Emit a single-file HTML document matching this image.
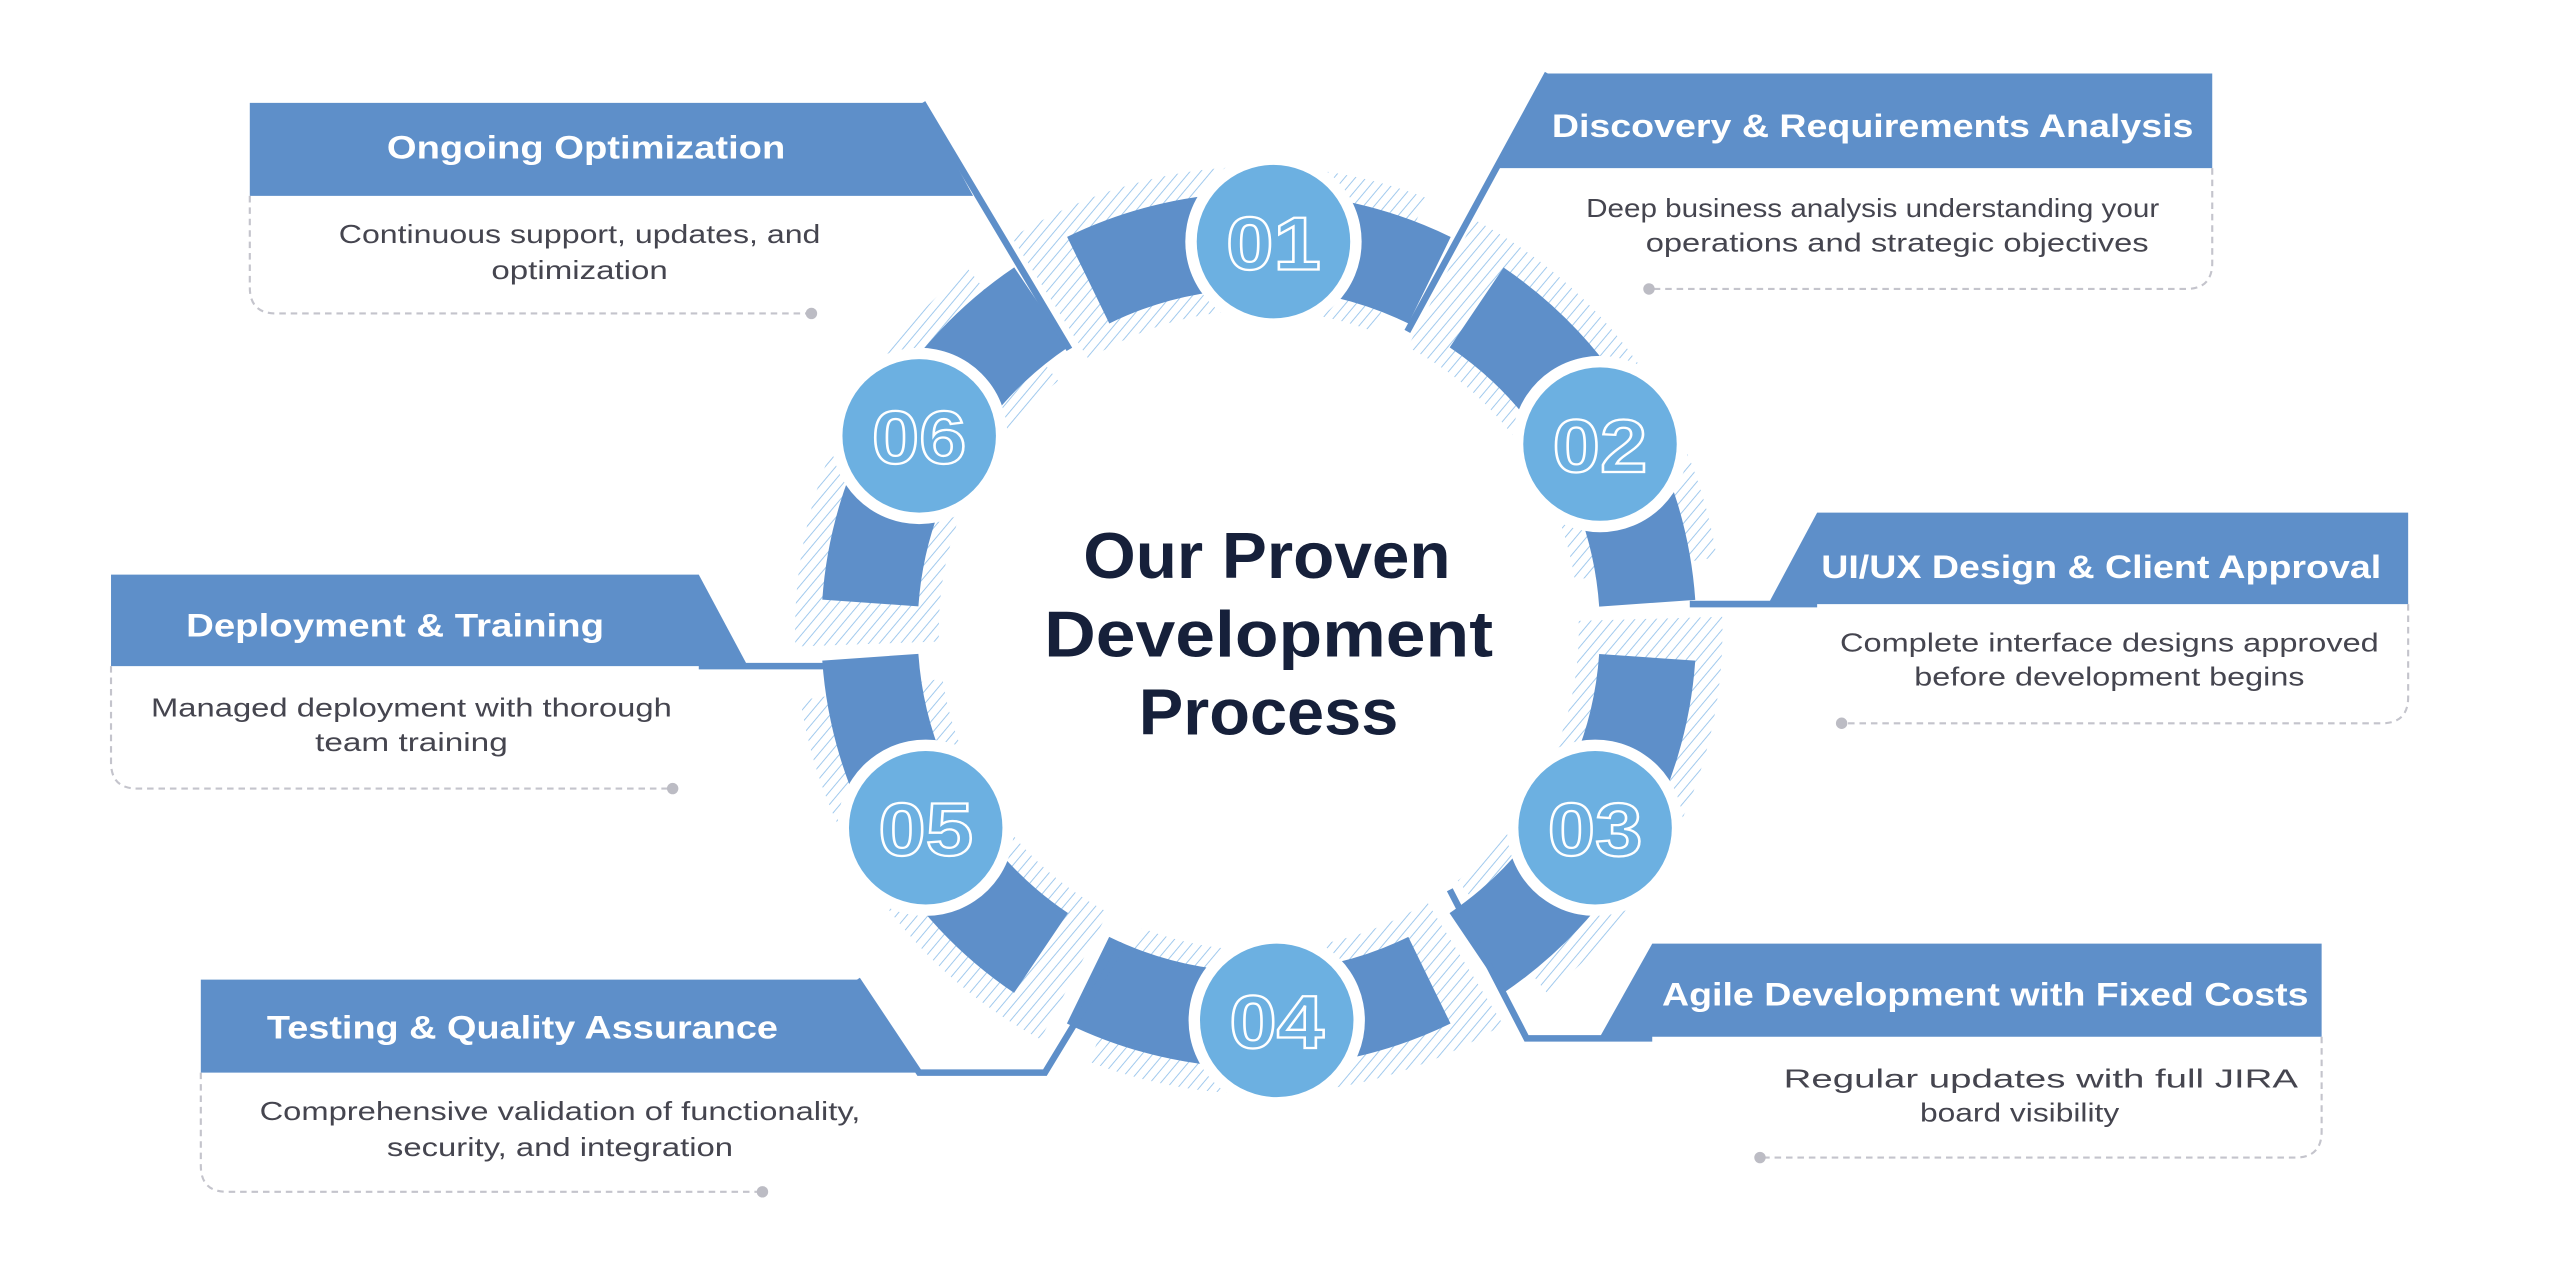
<!DOCTYPE html>
<html><head><meta charset="utf-8"><style>
html,body{margin:0;padding:0;background:#fff;}
svg{display:block;}
.h{font-family:"Liberation Sans",sans-serif;font-weight:bold;font-size:20px;fill:#fff;}
.d{font-family:"Liberation Sans",sans-serif;font-size:16px;fill:#45454f;}
.t{font-family:"Liberation Sans",sans-serif;font-weight:bold;font-size:40px;fill:#16203a;}
.n{font-family:"Liberation Sans",sans-serif;font-weight:bold;font-size:46px;fill:none;stroke:#fff;stroke-width:1.4;}
.dash{fill:none;stroke:#c4c4cc;stroke-width:1.3;stroke-dasharray:4 3;}
.cn{fill:none;stroke:#5e8fc9;stroke-width:4;}
</style></head><body>
<svg width="2560" height="1279" viewBox="0 0 1568 783.4" preserveAspectRatio="none" xmlns="http://www.w3.org/2000/svg">
<defs>
<pattern id="hp" width="5" height="5" patternUnits="userSpaceOnUse" patternTransform="rotate(45)">
<line x1="0" y1="0" x2="0" y2="5" stroke="#8fbfea" stroke-width="1.2"/>
</pattern>
</defs>

<g transform="rotate(-5 771 386)">
<circle cx="771" cy="386" r="240" fill="none" stroke="url(#hp)" stroke-width="88" stroke-dasharray="0 14 222.8 14" opacity="0.85"/>
</g>
<circle cx="771" cy="386" r="238.5" fill="none" stroke="#5e8fc9" stroke-width="59" stroke-dasharray="0 16.65 216.45 16.65"/>

<polyline class="cn" points="565,63 655,214"/>
<polyline class="cn" points="948,45 862,203"/>
<polyline class="cn" points="1035,370 1113,370"/>
<polyline class="cn" points="888,545 935,636 1012,636"/>
<polyline class="cn" points="525,600 563,657 640,657 688,578"/>
<polyline class="cn" points="428,408 505,408"/>

<polygon points="153,63 565,63 596,120 153,120" fill="#5e8fc9"/>
<polygon points="948,45 1355,45 1355,103 918,103" fill="#5e8fc9"/>
<polygon points="1113,314 1475,314 1475,370 1083,370" fill="#5e8fc9"/>
<polygon points="1012,578 1422,578 1422,635 980,635" fill="#5e8fc9"/>
<polygon points="123,600 525,600 563,657 123,657" fill="#5e8fc9"/>
<polygon points="68,352 428,352 458,408 68,408" fill="#5e8fc9"/>

<text class="h" x="359" y="97" text-anchor="middle" textLength="244" lengthAdjust="spacingAndGlyphs">Ongoing Optimization</text>
<text class="h" x="1147" y="84" text-anchor="middle" textLength="393" lengthAdjust="spacingAndGlyphs">Discovery &amp; Requirements Analysis</text>
<text class="h" x="1287" y="354" text-anchor="middle" textLength="343" lengthAdjust="spacingAndGlyphs">UI/UX Design &amp; Client Approval</text>
<text class="h" x="1216" y="616" text-anchor="middle" textLength="396" lengthAdjust="spacingAndGlyphs">Agile Development with Fixed Costs</text>
<text class="h" x="320" y="636" text-anchor="middle" textLength="313" lengthAdjust="spacingAndGlyphs">Testing &amp; Quality Assurance</text>
<text class="h" x="242" y="390" text-anchor="middle" textLength="256" lengthAdjust="spacingAndGlyphs">Deployment &amp; Training</text>

<path class="dash" d="M153,120 V176 Q153,192 169,192 H494"/><circle cx="497" cy="192" r="3.5" fill="#bcbcc4"/>
<path class="dash" d="M1355,103 V161 Q1355,177 1339,177 H1013"/><circle cx="1010" cy="177" r="3.5" fill="#bcbcc4"/>
<path class="dash" d="M1475,370 V427 Q1475,443 1459,443 H1131"/><circle cx="1128" cy="443" r="3.5" fill="#bcbcc4"/>
<path class="dash" d="M1422,635 V693 Q1422,709 1406,709 H1081"/><circle cx="1078" cy="709" r="3.5" fill="#bcbcc4"/>
<path class="dash" d="M123,657 V714 Q123,730 139,730 H464"/><circle cx="467" cy="730" r="3.5" fill="#bcbcc4"/>
<path class="dash" d="M68,408 V467 Q68,483 84,483 H409"/><circle cx="412" cy="483" r="3.5" fill="#bcbcc4"/>

<text class="d" x="355" y="149" text-anchor="middle" textLength="295" lengthAdjust="spacingAndGlyphs">Continuous support, updates, and</text>
<text class="d" x="355" y="171" text-anchor="middle" textLength="108" lengthAdjust="spacingAndGlyphs">optimization</text>
<text class="d" x="1147" y="133" text-anchor="middle" textLength="351" lengthAdjust="spacingAndGlyphs">Deep business analysis understanding your</text>
<text class="d" x="1162" y="154" text-anchor="middle" textLength="308" lengthAdjust="spacingAndGlyphs">operations and strategic objectives</text>
<text class="d" x="1292" y="399" text-anchor="middle" textLength="330" lengthAdjust="spacingAndGlyphs">Complete interface designs approved</text>
<text class="d" x="1292" y="420" text-anchor="middle" textLength="239" lengthAdjust="spacingAndGlyphs">before development begins</text>
<text class="d" x="1250" y="666" text-anchor="middle" textLength="315" lengthAdjust="spacingAndGlyphs">Regular updates with full JIRA</text>
<text class="d" x="1237" y="687" text-anchor="middle" textLength="122" lengthAdjust="spacingAndGlyphs">board visibility</text>
<text class="d" x="343" y="686" text-anchor="middle" textLength="368" lengthAdjust="spacingAndGlyphs">Comprehensive validation of functionality,</text>
<text class="d" x="343" y="708" text-anchor="middle" textLength="212" lengthAdjust="spacingAndGlyphs">security, and integration</text>
<text class="d" x="252" y="439" text-anchor="middle" textLength="319" lengthAdjust="spacingAndGlyphs">Managed deployment with thorough</text>
<text class="d" x="252" y="460" text-anchor="middle" textLength="118" lengthAdjust="spacingAndGlyphs">team training</text>

<g>
<circle cx="780" cy="148" r="54" fill="#fff"/><circle cx="780" cy="148" r="47" fill="#6cb0e1"/>
<circle cx="980" cy="272" r="54" fill="#fff"/><circle cx="980" cy="272" r="47" fill="#6cb0e1"/>
<circle cx="977" cy="507" r="54" fill="#fff"/><circle cx="977" cy="507" r="47" fill="#6cb0e1"/>
<circle cx="782" cy="625" r="54" fill="#fff"/><circle cx="782" cy="625" r="47" fill="#6cb0e1"/>
<circle cx="567" cy="507" r="54" fill="#fff"/><circle cx="567" cy="507" r="47" fill="#6cb0e1"/>
<circle cx="563" cy="267" r="54" fill="#fff"/><circle cx="563" cy="267" r="47" fill="#6cb0e1"/>
</g>
<text class="n" x="780" y="165" text-anchor="middle" textLength="58" lengthAdjust="spacingAndGlyphs">01</text>
<text class="n" x="980" y="289" text-anchor="middle" textLength="58" lengthAdjust="spacingAndGlyphs">02</text>
<text class="n" x="977" y="524" text-anchor="middle" textLength="58" lengthAdjust="spacingAndGlyphs">03</text>
<text class="n" x="782" y="642" text-anchor="middle" textLength="58" lengthAdjust="spacingAndGlyphs">04</text>
<text class="n" x="567" y="524" text-anchor="middle" textLength="58" lengthAdjust="spacingAndGlyphs">05</text>
<text class="n" x="563" y="284" text-anchor="middle" textLength="58" lengthAdjust="spacingAndGlyphs">06</text>

<text class="t" x="776" y="354" text-anchor="middle" textLength="225" lengthAdjust="spacingAndGlyphs">Our Proven</text>
<text class="t" x="777" y="402" text-anchor="middle" textLength="275" lengthAdjust="spacingAndGlyphs">Development</text>
<text class="t" x="777" y="450" text-anchor="middle" textLength="159" lengthAdjust="spacingAndGlyphs">Process</text>
</svg>
</body></html>
